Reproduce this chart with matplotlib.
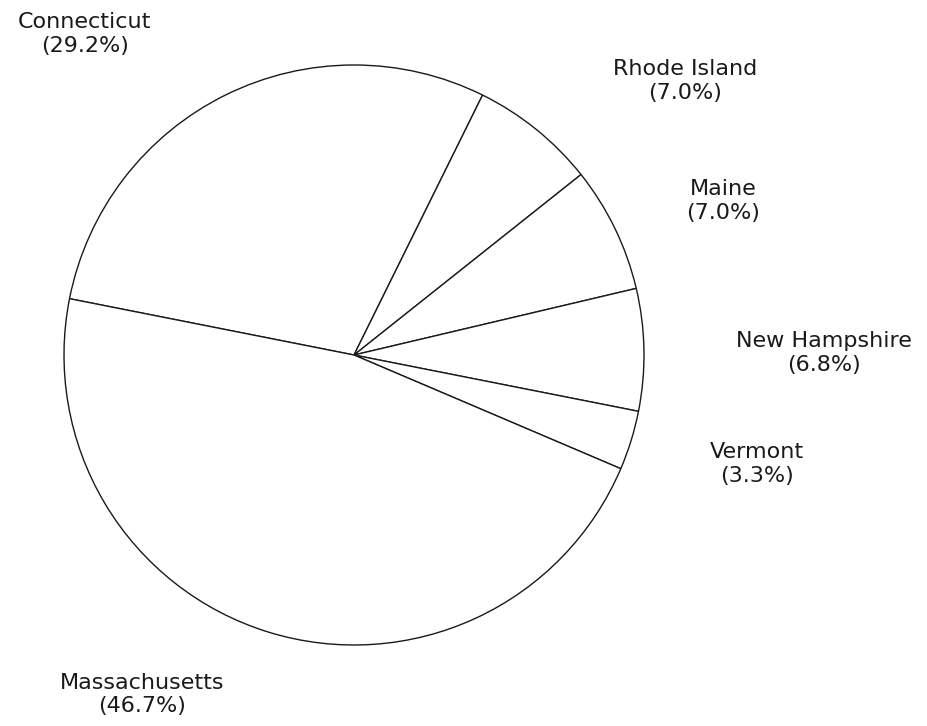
import matplotlib
matplotlib.use('Agg')
import matplotlib.pyplot as plt

states = ['Connecticut', 'Rhode Island', 'Maine', 'New Hampshire', 'Vermont', 'Massachusetts']
shares = [29.2, 7.0, 7.0, 6.8, 3.3, 46.7]

# label centres in pie units (radius = 1)
label_pos = [(-0.928, 1.107), (1.141, 0.945), (1.272, 0.531),
             (1.621, 0.007), (1.390, -0.376), (-0.731, -1.172)]

fig = plt.figure(figsize=(9.28, 7.26), dpi=100)
ax = fig.add_axes([0, 0, 1, 1])
ax.pie(shares, startangle=168.8, counterclock=False, radius=1.0,
       colors=['white'] * len(shares),
       wedgeprops=dict(edgecolor='#1a1a1a', linewidth=1.0))

for name, val, (x, y) in zip(states, shares, label_pos):
    ax.text(x, y, '%s\n(%.1f%%)' % (name, val), ha='center', va='center',
            fontsize=16, color='#1a1a1a', family='DejaVu Sans', linespacing=1.2)

ax.set_aspect('equal')
ax.set_xlim(-354 / 290, (928 - 354) / 290)
ax.set_ylim((355 - 726) / 290, 355 / 290)
ax.axis('off')

fig.savefig('out.png', dpi=100)
